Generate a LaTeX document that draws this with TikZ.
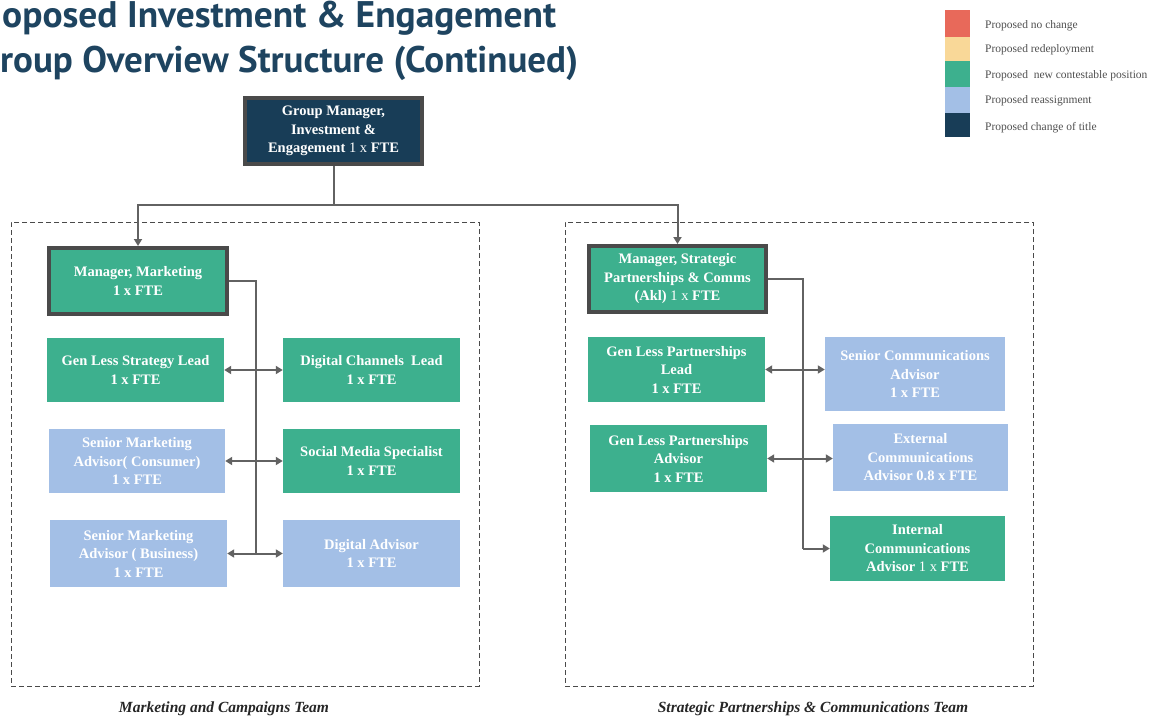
\documentclass[tikz,border=0pt]{standalone}
\usepackage{fontspec}
\setmainfont{Liberation Serif}
\newfontfamily\titlefont{PT Sans}
\usetikzlibrary{arrows.meta}

\definecolor{cred}{HTML}{E8695A}
\definecolor{cyellow}{HTML}{F9D898}
\definecolor{cgreen}{HTML}{3DB08E}
\definecolor{cblue}{HTML}{A3BFE6}
\definecolor{cnavy}{HTML}{183D57}
\definecolor{cborder}{HTML}{4A4A4A}
\definecolor{cline}{HTML}{626262}
\definecolor{ctitle}{HTML}{1E4460}
\definecolor{clegend}{HTML}{505050}

\tikzset{
  box/.style={rectangle, inner sep=2pt, align=center, text=white,
    font=\bfseries\fontsize{14.5}{18.5}\selectfont},
  gbox/.style={box, fill=cgreen},
  bbox/.style={box, fill=cblue},
  mgr/.style={draw=cborder, line width=4pt},
  wire/.style={draw=cline, line width=2pt},
  tip/.style={wire, -{Triangle[width=8pt,length=7pt]}},
  bitip/.style={wire, {Triangle[width=8pt,length=7pt]}-{Triangle[width=8pt,length=7pt]}},
  team/.style={draw=cborder, line width=1pt, dash pattern=on 5pt off 3pt,
    rectangle, inner sep=0pt},
  teamlabel/.style={font=\bfseries\itshape\fontsize{15.5}{17}\selectfont, text=black!85},
  swatch/.style={rectangle, inner sep=0pt, minimum width=25pt},
  legtext/.style={anchor=west, inner sep=0pt, text=clegend,
    font=\fontsize{11.5}{13}\selectfont},
  titletext/.style={anchor=base west, inner sep=0pt, text=ctitle,
    font=\titlefont\bfseries\fontsize{37}{40}\selectfont}
}

\begin{document}
\begin{tikzpicture}[x=1pt, y=-1pt]
\useasboundingbox (0,0) rectangle (1157,717);
\fill[white] (0,0) rectangle (1157,717);

% heading
\node[titletext] (title1) at (2,28) {\scalebox{1.012}[1]{oposed Investment \& Engagement}};
\node[titletext] (title2) at (0,73) {roup Overview Structure (Continued)};

% legend
\node[swatch, fill=cred,    minimum height=27pt] (lg1) at (957.5,23.5) {};
\node[swatch, fill=cyellow, minimum height=24pt] (lg2) at (957.5,49) {};
\node[swatch, fill=cgreen,  minimum height=26pt] (lg3) at (957.5,74) {};
\node[swatch, fill=cblue,   minimum height=26pt] (lg4) at (957.5,100) {};
\node[swatch, fill=cnavy,   minimum height=24pt] (lg5) at (957.5,125) {};
\node[legtext] (lt1) at (985,26) {Proposed no change};
\node[legtext] (lt2) at (985,50) {Proposed redeployment};
\node[legtext] (lt3) at (985,76) {Proposed\ \ new contestable position};
\node[legtext] (lt4) at (985,101) {Proposed reassignment};
\node[legtext] (lt5) at (985,128) {Proposed change of title};

% team containers
\node[team, minimum width=468pt, minimum height=464pt] (teamL) at (245,454) {};
\node[team, minimum width=468pt, minimum height=464pt] (teamR) at (799,454) {};
\node[teamlabel] (teamLlab) at (224,709) {Marketing and Campaigns Team};
\node[teamlabel] (teamRlab) at (813,709) {Strategic Partnerships \& Communications Team};

% group manager
\node[box, mgr, fill=cnavy, minimum width=177pt, minimum height=66pt] (gm) at (333.5,131)
  {Group Manager,\\Investment \&\\Engagement \textmd{1 x} FTE};

% marketing team
\node[gbox, mgr, minimum width=178pt, minimum height=66pt] (mm) at (138,281)
  {Manager, Marketing\\1 x FTE};
\node[gbox, minimum width=177pt, minimum height=64pt] (gsl) at (135.5,370)
  {Gen Less Strategy Lead\\1 x FTE};
\node[gbox, minimum width=177pt, minimum height=64pt] (dcl) at (371.5,370)
  {Digital Channels\ \ Lead\\1 x FTE};
\node[bbox, minimum width=176pt, minimum height=64pt] (smc) at (137,461)
  {Senior Marketing\\Advisor( Consumer)\\1 x FTE};
\node[gbox, minimum width=177pt, minimum height=64pt] (sms) at (371.5,461)
  {Social Media Specialist\\1 x FTE};
\node[bbox, minimum width=177pt, minimum height=67pt] (smb) at (138.5,553.5)
  {Senior Marketing\\Advisor ( Business)\\1 x FTE};
\node[bbox, minimum width=177pt, minimum height=67pt] (da) at (371.5,553.5)
  {Digital Advisor\\1 x FTE};

% partnerships team
\node[gbox, mgr, minimum width=177pt, minimum height=66pt] (msp) at (677.5,279)
  {Manager, Strategic\\Partnerships \& Comms\\(Akl) \textmd{1 x} FTE};
\node[gbox, minimum width=177pt, minimum height=65pt] (gpl) at (676.5,369.5)
  {Gen Less Partnerships\\Lead\\1 x FTE};
\node[bbox, minimum width=180pt, minimum height=74pt] (sca) at (915,374)
  {Senior Communications\\Advisor\\1 x FTE};
\node[gbox, minimum width=177pt, minimum height=67pt] (gpa) at (678.5,458.5)
  {Gen Less Partnerships\\Advisor\\1 x FTE};
\node[bbox, minimum width=175pt, minimum height=67pt] (eca) at (920.5,457.5)
  {External\\Communications\\Advisor 0.8 x FTE};
\node[gbox, minimum width=175pt, minimum height=65pt] (ica) at (917.5,548.5)
  {Internal\\Communications\\Advisor \textmd{1 x} FTE};

% top-level connectors
\coordinate (jn) at (333.5,205);
\draw[wire] (gm.south) -- (jn);
\draw[tip] (jn) -| (mm.north);
\draw[tip] (jn) -| (msp.north);

% marketing spine and links
\coordinate (lsb) at (256,553.5);
\draw[wire] (mm.east) -| (lsb);
\draw[bitip] (gsl.east) -- (dcl.west);
\draw[bitip] (smc.east) -- (sms.west);
\draw[bitip] (smb.east) -- (da.west);

% partnerships spine and links
\coordinate (rsb) at (803,548.5);
\draw[wire] (msp.east) -| (rsb);
\draw[bitip] (gpl.east) -- (gpl.east -| sca.west);
\draw[bitip] (gpa.east) -- (gpa.east -| eca.west);
\draw[tip] (rsb) -- (ica.west);
\end{tikzpicture}
\end{document}
